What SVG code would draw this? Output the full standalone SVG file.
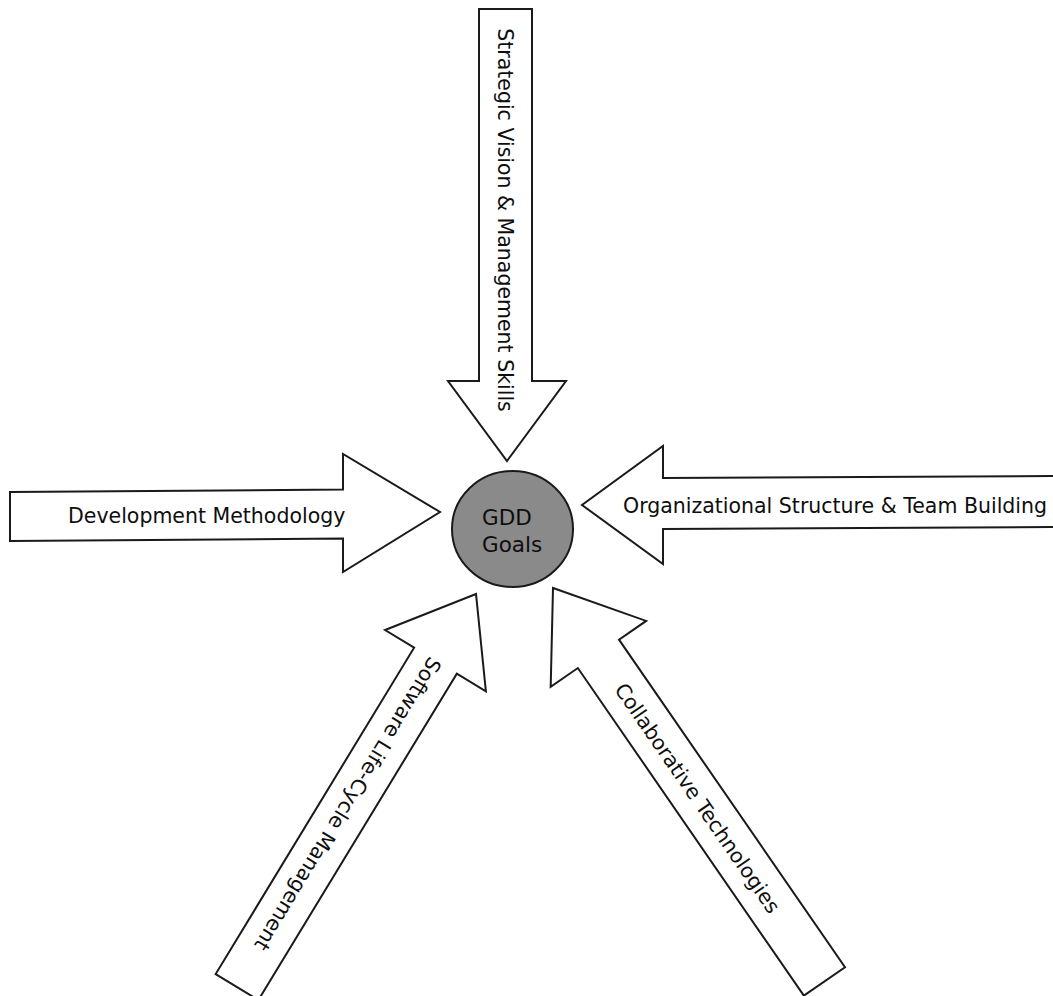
<svg xmlns="http://www.w3.org/2000/svg" width="1053" height="996" viewBox="0 0 1053 996">
  <style>
    .arrow { fill: #ffffff; stroke: #1a1a1a; stroke-width: 2; stroke-linejoin: miter; }
    .label { font-family: "DejaVu Sans", Verdana, sans-serif; font-size: 20.5px; fill: #0e0e0e; }
    .hub { fill: #8a8a8a; stroke: #1a1a1a; stroke-width: 2; }
    .hub-label { font-family: "DejaVu Sans", Verdana, sans-serif; font-size: 21.5px; fill: #0e0e0e; }
  </style>
  <rect width="1053" height="996" fill="#ffffff"/>

  <!-- block arrows pointing at the central goal -->
  <g id="connectors">
    <g id="strategic-vision">
      <polygon class="arrow" points="479,9 532,9 532,381 566,381 507,461 448,381 479,381"/>
      <text class="label" text-anchor="middle" transform="translate(505.5,220) rotate(90)" y="7.5">Strategic Vision &amp; Management Skills</text>
    </g>

    <g id="development-methodology">
      <polygon class="arrow" points="10,492 343,489.5 343,454 440,512 343,572 343,538.5 10,541"/>
      <text class="label" x="68" y="523">Development Methodology</text>
    </g>

    <g id="organizational-structure">
      <polygon class="arrow" points="1060,476 663,478 663,446 582,505 663,564 663,529 1060,527"/>
      <text class="label" x="623" y="513">Organizational Structure &amp; Team Building</text>
    </g>

    <g id="software-lifecycle" transform="translate(476,594) rotate(-58.7)">
      <polygon class="arrow" points="0,0 -78,-59 -78,-25 -460,-25 -460,25 -78,25 -78,59"/>
      <text class="label" text-anchor="middle" transform="translate(-246,0) rotate(180)" y="7.5">Software Life-Cycle Management</text>
    </g>

    <g id="collaborative-technologies" transform="translate(553,588) rotate(-124.6)">
      <polygon class="arrow" points="0,0 -80,-58 -80,-25 -478,-25 -478,25 -80,25 -80,58"/>
      <text class="label" text-anchor="middle" transform="translate(-255,0) rotate(180)" y="7.5">Collaborative Technologies</text>
    </g>
  </g>

  <!-- central goal -->
  <g id="gdd-goals">
    <ellipse class="hub" cx="512.5" cy="529" rx="60.5" ry="58"/>
    <text class="hub-label" x="482" y="525">GDD</text>
    <text class="hub-label" x="482" y="552">Goals</text>
  </g>
</svg>
